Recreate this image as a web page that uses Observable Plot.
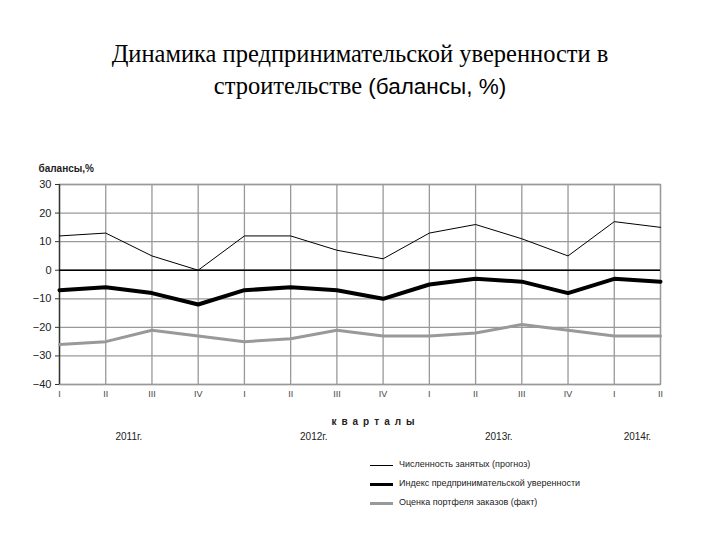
<!DOCTYPE html>
<html>
<head>
<meta charset="utf-8">
<script src="https://cdn.jsdelivr.net/npm/d3@7"></script>
<script src="https://cdn.jsdelivr.net/npm/@observablehq/plot@0.6"></script>
<style>
  body { margin: 0; width: 720px; height: 540px; background: #fff; position: relative; overflow: hidden; }
  #title { position: absolute; top: 38px; left: 0; width: 720px; text-align: center;
    font-family: "Liberation Serif", "Times New Roman", serif; font-size: 24.5px; line-height: 32px; color: #000; }
  #title .sans { font-family: "Liberation Sans", Arial, sans-serif; font-size: 22.5px; }
  #chart { position: absolute; top: 140px; left: 0; }
  .leg { position: absolute; left: 370px; font-family: "Liberation Sans", Arial, sans-serif; font-size: 9px; color: #222; }
  .leg span.sw { position: absolute; left: 0; width: 23px; }
  .leg span.tx { position: absolute; left: 29px; top: -6px; white-space: nowrap; }
</style>
</head>
<body>
<div id="title">Динамика предпринимательской уверенности в<br>строительстве <span class="sans">(балансы, %)</span></div>
<div id="chart"></div>
<div class="leg" style="top:465px"><span class="sw" style="border-top:1px solid #000;top:0"></span><span class="tx">Численность занятых (прогноз)</span></div>
<div class="leg" style="top:484px"><span class="sw" style="border-top:3.5px solid #000;top:-1px"></span><span class="tx">Индекс предпринимательской уверенности</span></div>
<div class="leg" style="top:503px"><span class="sw" style="border-top:3px solid #999;top:-1px"></span><span class="tx">Оценка портфеля заказов (факт)</span></div>
<script>
const quarters = ["I","II","III","IV","I","II","III","IV","I","II","III","IV","I","II"];
const years = ["2011г.","2012г.","2013г.","2014г."];
const yearQuarterIdx = [[0,1,2,3],[4,5,6,7],[8,9,10,11],[12,13]];
const employment = [12, 13, 5, 0, 12, 12, 7, 4, 13, 16, 11, 5, 17, 15];
const confidence = [-7, -6, -8, -12, -7, -6, -7, -10, -5, -3, -4, -8, -3, -4];
const orders = [-26, -25, -21, -23, -25, -24, -21, -23, -23, -22, -19, -21, -23, -23];
const yTicks = [-40, -30, -20, -10, 0, 10, 20, 30];
const xTitle = "кварталы";

const idx = quarters.map((_, i) => i);
const mk = (vals) => vals.map((v, i) => ({i, v}));
const yearData = years.map((y, k) => ({label: y, x: d3.mean(yearQuarterIdx[k])}));
const spaced = Array.from(xTitle).join("\u2002");

const plot = Plot.plot({
  width: 720,
  height: 310,
  marginLeft: 59,
  marginRight: 60,
  marginTop: 44,
  marginBottom: 66,
  style: {fontFamily: "'Liberation Sans', Arial, sans-serif", color: "#222", background: "transparent"},
  x: {type: "linear", domain: [0, quarters.length - 1]},
  y: {domain: [-40, 30]},
  marks: [
    Plot.gridX(idx, {stroke: "#999", strokeOpacity: 1, strokeWidth: 1.3}),
    Plot.gridY(yTicks, {stroke: "#999", strokeOpacity: 1, strokeWidth: 1.3}),
    Plot.frame({stroke: "#999", strokeWidth: 1.3}),
    Plot.ruleX([0], {stroke: "#333", strokeWidth: 1.3}),
    Plot.ruleY([0], {stroke: "#000", strokeWidth: 1.5}),
    Plot.axisY(yTicks, {tickSize: 4, tickPadding: 4, fontSize: 11, label: null, stroke: "#333", fill: "#222"}),
    Plot.axisX(idx, {tickSize: 0, tickPadding: 6, fontSize: 9, label: null, fill: "#444", tickFormat: i => quarters[i]}),
    Plot.line(mk(orders), {x: "i", y: "v", stroke: "#999", strokeWidth: 3}),
    Plot.line(mk(confidence), {x: "i", y: "v", stroke: "#000", strokeWidth: 4}),
    Plot.line(mk(employment), {x: "i", y: "v", stroke: "#000", strokeWidth: 1}),
    Plot.text(["балансы,%"], {frameAnchor: "top-left", dx: -21, dy: -20, fontSize: 10, fontWeight: "bold", textAnchor: "start", fill: "#222"}),
    Plot.text([spaced], {frameAnchor: "bottom", dx: 13, dy: 40, fontSize: 10, fontWeight: "bold", fill: "#222"}),
    Plot.text(yearData, {x: "x", text: "label", frameAnchor: "bottom", dy: 55, fontSize: 10, fill: "#222"})
  ]
});
document.getElementById("chart").appendChild(plot);
</script>
</body>
</html>
